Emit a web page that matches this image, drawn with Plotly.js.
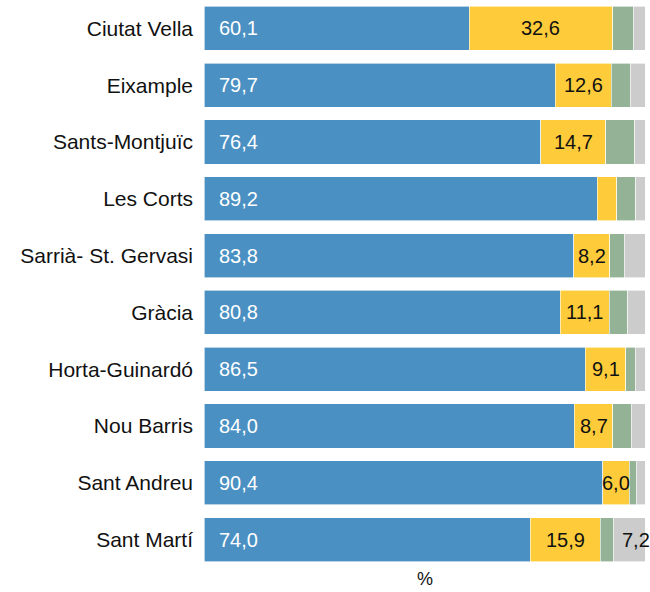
<!DOCTYPE html>
<html>
<head>
<meta charset="utf-8">
<script src="https://cdn.plot.ly/plotly-3.0.1.min.js"></script>
<style>html,body{margin:0;padding:0;background:#fff;}#chart{width:650px;height:592px;}</style>
</head>
<body>
<div id="chart"></div>
<script>
const districts = ["Ciutat Vella","Eixample","Sants-Montjuïc","Les Corts","Sarrià- St. Gervasi","Gràcia","Horta-Guinardó","Nou Barris","Sant Andreu","Sant Martí"];
const blueVals   = [60.1, 79.7, 76.4, 89.2, 83.8, 80.8, 86.5, 84.0, 90.4, 74.0];
const yellowVals = [32.6, 12.6, 14.7, 4.4, 8.2, 11.1, 9.1, 8.7, 6.0, 15.9];
const greenVals  = [4.6, 4.3, 6.6, 4.3, 3.3, 4.2, 2.2, 4.2, 1.6, 2.9];
const grayVals   = [2.7, 3.4, 2.3, 2.1, 4.7, 3.9, 2.2, 3.1, 2.0, 7.2];

const colors = ["#4a90c2", "#fecc3a", "#94b396", "#cccccc"];
const series = [blueVals, yellowVals, greenVals, grayVals];
const fmt = v => v.toFixed(1).replace(".", ",");

const traces = series.map((vals, i) => ({
  type: "bar", orientation: "h", y: districts, x: vals,
  marker: {color: colors[i], line: {color: "#ffffff", width: 0.6}},
  hoverinfo: "none", showlegend: false
}));

const FONT = "Liberation Sans, Arial, sans-serif";
const annotations = [];
districts.forEach((d, k) => {
  annotations.push({x: 0, y: d, xref: "x", yref: "y", text: fmt(blueVals[k]), showarrow: false,
    xanchor: "left", xshift: 13, font: {family: FONT, size: 20, color: "#ffffff"}});
  if (yellowVals[k] > 5) {
    annotations.push({x: blueVals[k] + yellowVals[k] / 2, y: d, xref: "x", yref: "y", text: fmt(yellowVals[k]),
      showarrow: false, xanchor: "center", font: {family: FONT, size: 20, color: "#111111"}});
  }
  if (grayVals[k] > 5) {
    const start = blueVals[k] + yellowVals[k] + greenVals[k];
    annotations.push({x: start + grayVals[k] / 2, y: d, xref: "x", yref: "y", text: fmt(grayVals[k]),
      showarrow: false, xanchor: "center", xshift: 7, font: {family: FONT, size: 20, color: "#111111"}});
  }
});
annotations.push({x: 0.5, y: 0, xref: "paper", yref: "paper", yanchor: "top", yshift: 0, borderpad: 0, text: "%",
  showarrow: false, font: {family: FONT, size: 18, color: "#111111"}});

const layout = {
  width: 650, height: 592,
  margin: {l: 204, r: 5, t: 0, b: 24, pad: 0},
  barmode: "stack", bargap: 0.225,
  paper_bgcolor: "#ffffff", plot_bgcolor: "#ffffff",
  xaxis: {range: [0, 100], showgrid: false, zeroline: false, showticklabels: false, ticks: "", showline: false, fixedrange: true},
  yaxis: {autorange: "reversed", showgrid: false, zeroline: false, showline: false, ticks: "",
    ticklabelstandoff: 10, tickfont: {family: FONT, size: 21, color: "#111111"}, fixedrange: true},
  annotations: annotations
};
Plotly.newPlot("chart", traces, layout, {displayModeBar: false, staticPlot: true});
</script>
</body>
</html>
